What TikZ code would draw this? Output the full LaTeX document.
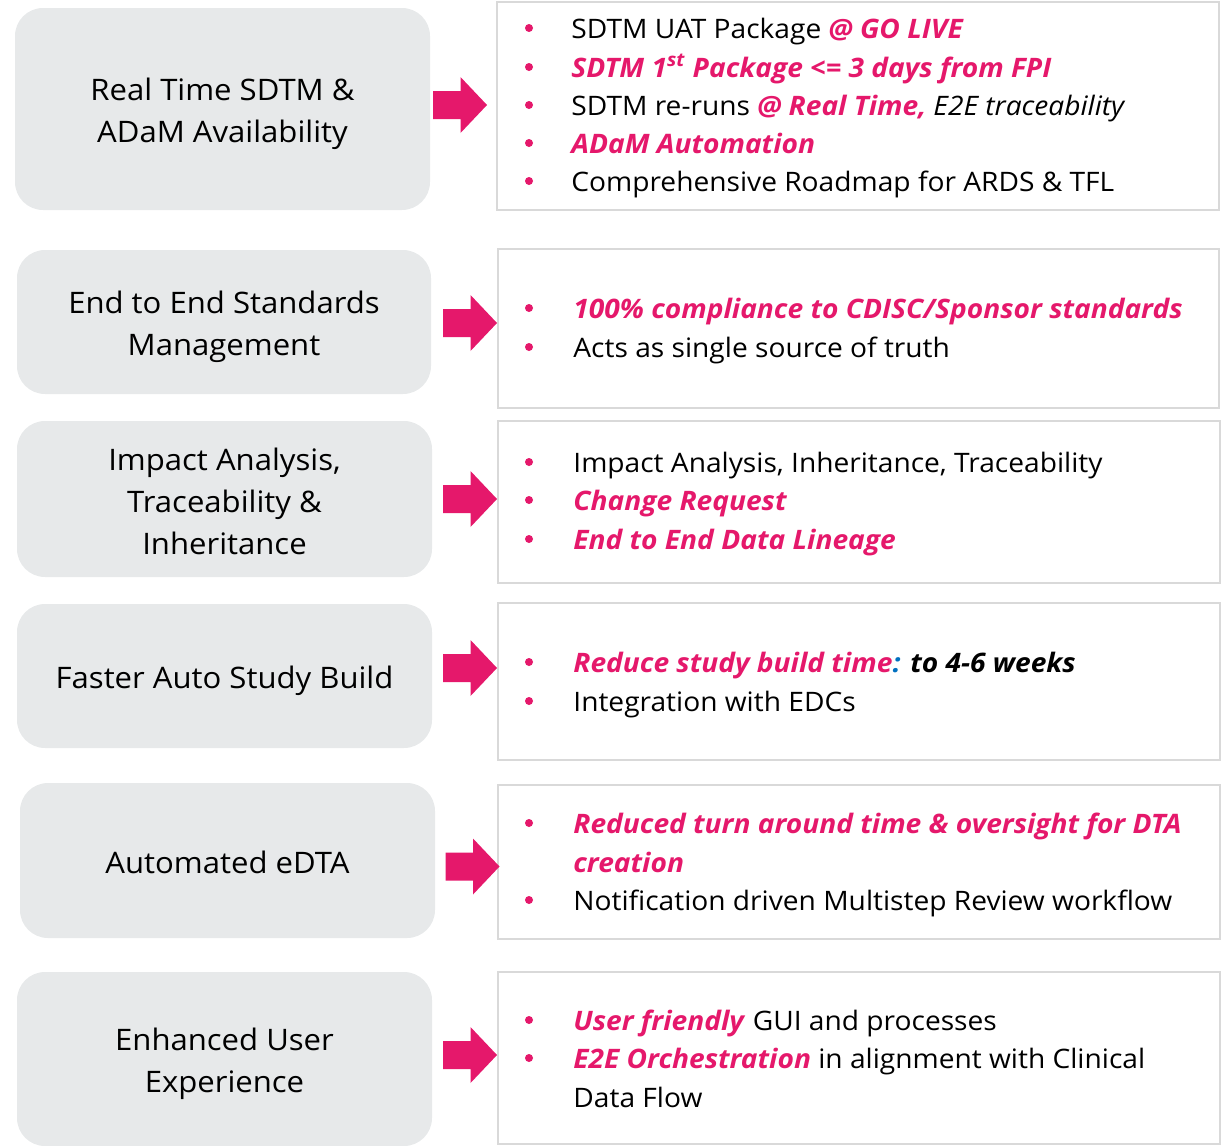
\documentclass[tikz,border=0pt]{standalone}
\usepackage{fontspec}
\setmainfont{Open Sans}[FakeStretch=1.05]
\definecolor{accent}{HTML}{E5186B}
\definecolor{panel}{HTML}{E7E9EA}
\definecolor{frame}{HTML}{D9D9D9}
\definecolor{colonblue}{HTML}{0070C0}
\newcommand\hi[1]{\textcolor{accent}{\textbf{\textit{#1}}}}
% block arrow: #1 = left end of shaft, #2 = vertical centre
\newcommand\blockarrow[2]{%
  \fill[accent] (#1,#2-14) -- (#1+27.5,#2-14) -- (#1+27.5,#2-28) -- (#1+54,#2)
    -- (#1+27.5,#2+28) -- (#1+27.5,#2+14) -- (#1,#2+14) -- cycle;}
\tikzset{
  lbox/.style={rounded corners=14pt, fill=panel, inner sep=0pt},
  ltext/.style={align=center, inner sep=0pt, yshift=-2.5pt,
    font=\fontsize{14.8}{21}\selectfont},
  rbox/.style={draw=frame, line width=0.6pt, fill=white, inner sep=0pt},
  bul/.style={circle, fill=accent, inner sep=0pt, minimum size=4pt},
  item/.style={anchor=base west, inner sep=0pt, font=\fontsize{13.4}{16}\selectfont},
}
\begin{document}
\begin{tikzpicture}[x=0.5pt,y=-0.5pt]
\useasboundingbox (0,0) rectangle (1221,1146);

% left category panels
\node[lbox, minimum width=207.5pt, minimum height=101pt] (l1) at (222.5,109) {};
\node[lbox, minimum width=207pt, minimum height=72pt] (l2) at (224,322) {};
\node[lbox, minimum width=207.5pt, minimum height=78pt] (l3) at (224.5,499) {};
\node[lbox, minimum width=207.5pt, minimum height=72pt] (l4) at (224.5,676) {};
\node[lbox, minimum width=207.5pt, minimum height=77.5pt] (l5) at (227.5,860.5) {};
\node[lbox, minimum width=207.5pt, minimum height=87pt] (l6) at (224.5,1059) {};
\node[ltext] (l1t) at (l1.center) {Real Time SDTM \&\\ADaM Availability};
\node[ltext] (l2t) at (l2.center) {End to End Standards\\Management};
\node[ltext, yshift=1.5pt] (l3t) at (l3.center) {Impact Analysis,\\Traceability \&\\Inheritance};
\node[ltext] (l4t) at (l4.center) {Faster Auto Study Build};
\node[ltext, yshift=1.5pt] (l5t) at (l5.center) {Automated eDTA};
\node[ltext] (l6t) at (l6.center) {Enhanced User\\Experience};

% right detail panels
\node[rbox, minimum width=361pt, minimum height=104pt] (r1) at (858,106) {};
\node[rbox, minimum width=360.5pt, minimum height=79.5pt] (r2) at (858.5,328.5) {};
\node[rbox, minimum width=361pt, minimum height=81pt] (r3) at (859,502) {};
\node[rbox, minimum width=361pt, minimum height=78.5pt] (r4) at (859,681.5) {};
\node[rbox, minimum width=361pt, minimum height=77pt] (r5) at (859,862) {};
\node[rbox, minimum width=361pt, minimum height=86pt] (r6) at (859,1058) {};

% arrows between panels
\blockarrow{433}{105}
\blockarrow{443}{323}
\blockarrow{443}{499}
\blockarrow{443}{668}
\blockarrow{445.5}{866.5}
\blockarrow{443}{1055}

% bullets (centred 10px above each item's baseline)
\foreach \y/\n in {38/1a,77/1b,115/1c,153/1d,191/1e,318/2a,357/2b,472/3a,510/3b,549/3c,
                   672/4a,711/4b,833/5a,910/5b,1030/6a,1068/6b}
  \node[bul] (b\n) at (529,\y-10) {};

% panel 1
\node[item] (t1a) at (571,38) {SDTM UAT Package \hi{@ GO LIVE}};
\node[item] (t1b) at (571,77) {\hi{SDTM 1\textsuperscript{st} Package <= 3 days from FPI}};
\node[item] (t1c) at (571,115) {SDTM re-runs \hi{@ Real Time,} \textit{E2E traceability}};
\node[item] (t1d) at (571,153) {\hi{ADaM Automation}};
\node[item] (t1e) at (571,191) {Comprehensive Roadmap for ARDS \& TFL};

% panel 2
\node[item] (t2a) at (573,318) {\hi{100\% compliance to CDISC/Sponsor standards}};
\node[item] (t2b) at (573,357) {Acts as single source of truth};

% panel 3
\node[item] (t3a) at (573,472) {Impact Analysis, Inheritance, Traceability};
\node[item] (t3b) at (573,510) {\hi{Change Request}};
\node[item] (t3c) at (573,549) {\hi{End to End Data Lineage}};

% panel 4
\node[item] (t4a) at (573,672) {\hi{Reduce study build time}\textcolor{colonblue}{\textbf{\textit{:}}} \textbf{\textit{to 4-6 weeks}}};
\node[item] (t4b) at (573,711) {Integration with EDCs};

% panel 5
\node[item] (t5a) at (573,833) {\hi{Reduced turn around time \& oversight for DTA}};
\node[item] (t5b) at (573,872) {\hi{creation}};
\node[item] (t5c) at (573,910) {Notification driven Multistep Review workflow};

% panel 6
\node[item] (t6a) at (573,1030) {\hi{User friendly} GUI and processes};
\node[item] (t6b) at (573,1068) {\hi{E2E Orchestration} in alignment with Clinical};
\node[item] (t6c) at (573,1107) {Data Flow};
\end{tikzpicture}
\end{document}
